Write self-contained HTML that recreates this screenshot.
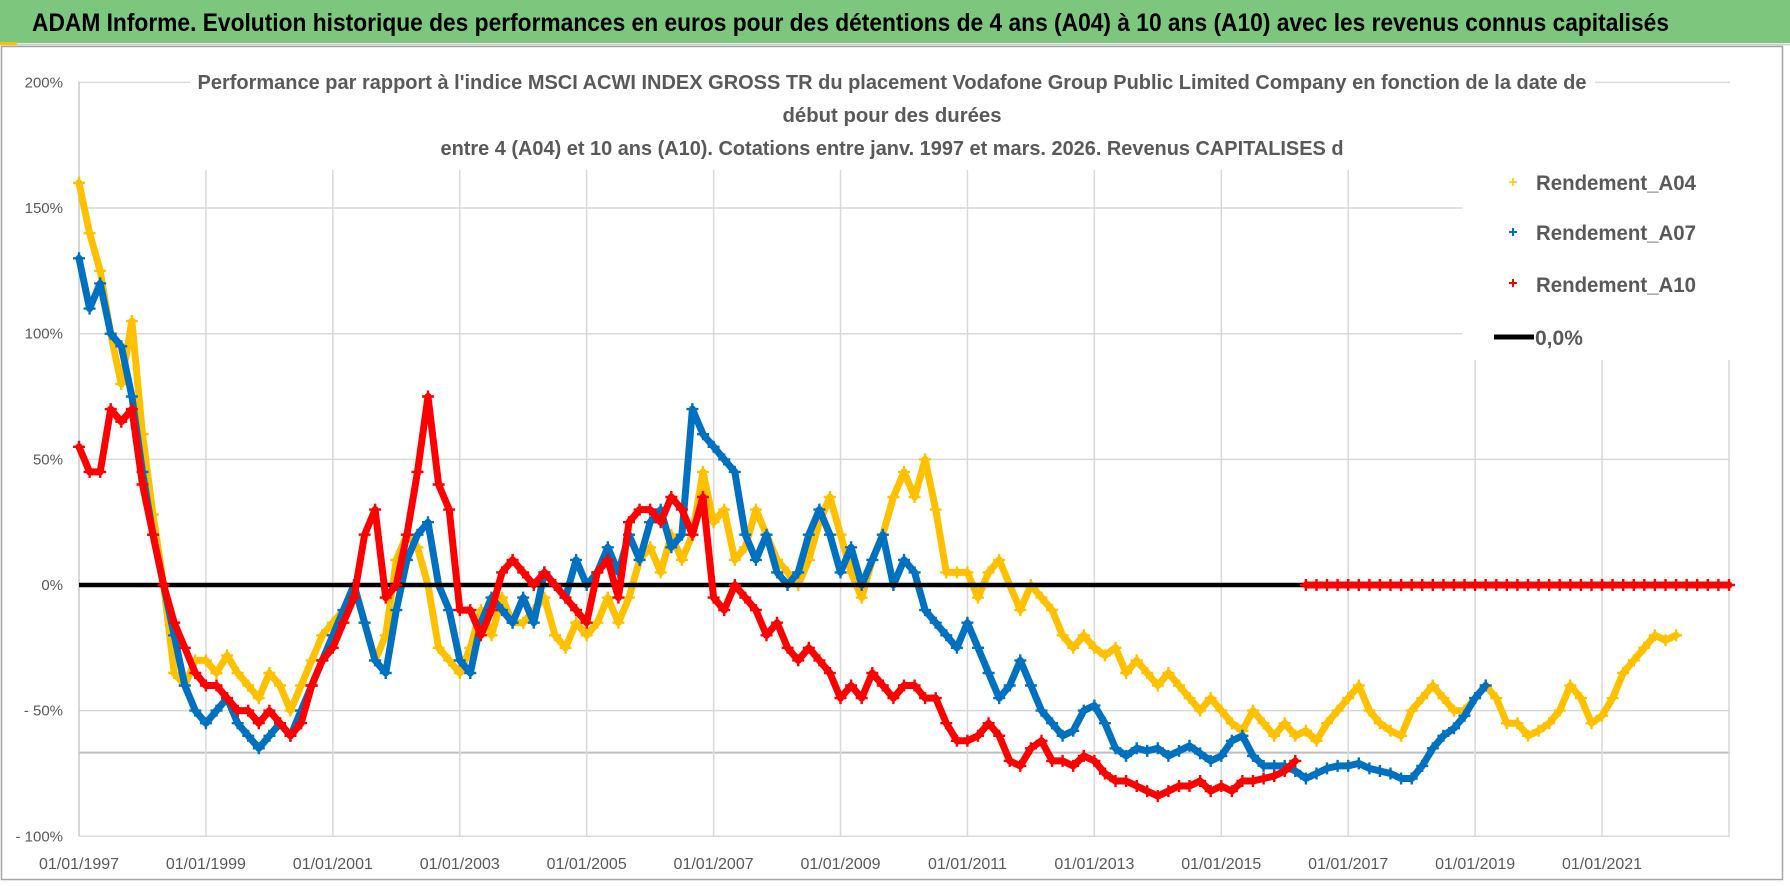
<!DOCTYPE html>
<html><head><meta charset="utf-8"><style>
html,body{margin:0;padding:0;background:#fff;}
svg{display:block;font-family:"Liberation Sans",sans-serif;}
</style></head><body>
<svg id="chart" width="1790" height="886" viewBox="0 0 1790 886" xmlns="http://www.w3.org/2000/svg">
<rect x="0" y="0" width="1790" height="886" fill="#fff"/>
<rect x="0" y="0" width="1790" height="43" fill="#7dc67d"/>
<line x1="0" y1="44.5" x2="1790" y2="44.5" stroke="#d0d0d0" stroke-width="2"/>
<rect x="0" y="42" width="17" height="3" fill="#ffc000"/>
<text x="32" y="31" font-size="25" font-weight="bold" fill="#000" textLength="1637" lengthAdjust="spacingAndGlyphs">ADAM Informe. Evolution historique des performances en euros pour des détentions de 4 ans (A04) à 10 ans (A10) avec les revenus connus capitalisés</text>
<rect x="1.5" y="46.5" width="1781" height="833" fill="none" stroke="#a6a6a6" stroke-width="1.5"/>
<g id="grid"></g>
<g id="marks"></g>
<rect x="190" y="62" width="1405" height="106" fill="#fff"/>
<text x="892" y="89" text-anchor="middle" font-size="20" font-weight="bold" fill="#595959" textLength="1389" lengthAdjust="spacingAndGlyphs">Performance par rapport à l'indice MSCI ACWI INDEX GROSS TR  du placement Vodafone Group Public Limited Company en fonction de la date de</text>
<text x="892" y="122" text-anchor="middle" font-size="20" font-weight="bold" fill="#595959" textLength="219" lengthAdjust="spacingAndGlyphs">début pour des durées</text>
<text x="892" y="155" text-anchor="middle" font-size="20" font-weight="bold" fill="#595959" textLength="903" lengthAdjust="spacingAndGlyphs">entre 4 (A04) et 10 ans (A10). Cotations entre janv. 1997 et mars. 2026. Revenus CAPITALISES d</text>
<rect x="1462" y="153" width="268" height="207" fill="#fff"/>
<g>
 <g><path d="M1509 182h8M1513 178v8" stroke="#ffc000" stroke-width="1.5"/><text x="1536" y="190" font-size="21" font-weight="bold" fill="#595959" textLength="160" lengthAdjust="spacingAndGlyphs">Rendement_A04</text></g>
 <g><path d="M1509 232h8M1513 228v8" stroke="#0070c0" stroke-width="2"/><text x="1536" y="240" font-size="21" font-weight="bold" fill="#595959" textLength="160" lengthAdjust="spacingAndGlyphs">Rendement_A07</text></g>
 <g><path d="M1509 283h8M1513 279v8" stroke="#ff0000" stroke-width="2"/><text x="1536" y="292" font-size="21" font-weight="bold" fill="#595959" textLength="160" lengthAdjust="spacingAndGlyphs">Rendement_A10</text></g>
 <g><line x1="1494" y1="337" x2="1534" y2="337" stroke="#000" stroke-width="5"/><text x="1535" y="345" font-size="21" font-weight="bold" fill="#595959">0,0%</text></g>
</g>
</svg>
<script>
const startYear = 1997;
const stepYears = 1/6;
const yTicks = [200,150,100,50,0,-50,-100];
const yTickLabels = ["200%","150%","100%","50%","0%","- 50%","- 100%"];
const xTickYears = [1997,1999,2001,2003,2005,2007,2009,2011,2013,2015,2017,2019,2021];
const xTickLabels = ["01/01/1997","01/01/1999","01/01/2001","01/01/2003","01/01/2005","01/01/2007","01/01/2009","01/01/2011","01/01/2013","01/01/2015","01/01/2017","01/01/2019","01/01/2021"];
const zeroLineStart = 1997;
const zeroLineEnd = 2016.3;
const refLineValue = -66.7;

const a04 = [160,140,125,100,80,105,
60,28,0,-35,-40,-30,
-30,-35,-28,-35,-40,-45,
-35,-40,-50,-40,-30,-20,
-15,-10,0,-15,-30,-20,
10,20,15,0,-25,-30,
-35,-25,-10,-20,-5,-15,
-15,-10,-5,-20,-25,-15,
-20,-15,-5,-15,-5,10,
15,5,20,10,20,45,
25,30,10,15,30,20,
10,5,0,10,25,35,
20,5,-5,10,20,35,
45,35,50,30,5,5,
5,-5,5,10,0,-10,
0,-5,-10,-20,-25,-20,
-25,-28,-25,-35,-30,-35,
-40,-35,-40,-45,-50,-45,
-50,-55,-58,-50,-55,-60,
-55,-60,-58,-62,-55,-50,
-45,-40,-50,-55,-58,-60,
-50,-45,-40,-45,-50,-50,
-45,-40,-45,-55,-55,-60,
-58,-55,-50,-40,-45,-55,
-52,-45,-35,-30,-25,-20,
-22,-20];

const a07 = [130,110,120,100,95,75,
45,20,0,-20,-40,-50,
-55,-50,-45,-55,-60,-65,
-60,-55,-60,-50,-40,-30,
-20,-10,0,-15,-30,-35,
-10,10,20,25,0,-10,
-30,-35,-15,-5,-10,-15,
-5,-15,5,0,-5,10,
0,5,15,5,20,10,
25,30,15,20,70,60,
55,50,45,20,10,20,
5,0,5,20,30,20,
5,15,0,10,20,0,
10,5,-10,-15,-20,-25,
-15,-25,-35,-45,-40,-30,
-40,-50,-55,-60,-58,-50,
-48,-55,-65,-68,-65,-66,
-65,-68,-66,-64,-67,-70,
-68,-62,-60,-68,-72,-72,
-72,-74,-77,-75,-73,-72,
-72,-71,-73,-74,-75,-77,
-77,-72,-65,-60,-57,-52,
-45,-40];

const a10 = [55,45,45,70,65,70,
40,20,0,-15,-25,-35,
-40,-40,-45,-50,-50,-55,
-50,-55,-60,-55,-40,-30,
-25,-15,-5,20,30,-5,
0,20,45,75,40,30,
-10,-10,-20,-10,5,10,
5,0,5,0,-5,-10,
-15,5,10,-5,25,30,
30,25,35,30,20,35,
-5,-10,0,-5,-10,-20,
-15,-25,-30,-25,-30,-35,
-45,-40,-45,-35,-40,-45,
-40,-40,-45,-45,-55,-62,
-62,-60,-55,-60,-70,-72,
-65,-62,-70,-70,-72,-68,
-70,-75,-78,-78,-80,-82,
-84,-82,-80,-80,-78,-82,
-80,-82,-78,-78,-77,-76,
-74,-70,
0,0,0,0,
0,0,0,0,0,0,
0,0,0,0,0,0,
0,0,0,0,0,0,
0,0,0,0,0,0,
0,0,0,0,0,0,
0,0,0,0,0,0,
0];

const NS = "http://www.w3.org/2000/svg";
const X0 = 79, PXYEAR = 63.46, Y0 = 585, PXPCT = 2.513, PLOT_R = 1730, PLOT_T = 82, PLOT_B = 836;
function xScale(t){ return X0 + (t - 1997) * PXYEAR; }
function yScale(v){ return Y0 - v * PXPCT; }
function mk(tag, attrs, parent){ const e = document.createElementNS(NS, tag); for (const k in attrs) e.setAttribute(k, attrs[k]); parent.appendChild(e); return e; }

const grid = document.getElementById('grid');
const marks = document.getElementById('marks');
const svg = document.getElementById('chart');

yTicks.forEach((v, i) => {
  if (v !== 0) {
    const l = mk('line', {x1: X0, x2: PLOT_R, y1: yScale(v), y2: yScale(v), stroke: '#d9d9d9', 'stroke-width': 1.5}, grid);
    
    
  }
  const t = mk('text', {x: 63, y: yScale(v) + 5, 'text-anchor': 'end', 'font-size': 15, fill: '#595959'}, svg);
  t.textContent = yTickLabels[i];
  
  
});
const ref = mk('line', {x1: X0, x2: PLOT_R, y1: yScale(refLineValue), y2: yScale(refLineValue), stroke: '#bfbfbf', 'stroke-width': 2}, grid);



xTickYears.forEach((yr, i) => {
  const x = xScale(yr);
  const l = mk('line', {x1: x, x2: x, y1: i === 0 ? PLOT_T : 170, y2: PLOT_B, stroke: i === 0 ? '#c8c8c8' : '#d9d9d9', 'stroke-width': 1.5}, grid);
  
  
  const t = mk('text', {x: x, y: 869, 'text-anchor': 'middle', 'font-size': 16, fill: '#595959'}, svg);
  t.textContent = xTickLabels[i];
  
  
});
const xr = mk('line', {x1: xScale(2023), x2: xScale(2023), y1: 360, y2: PLOT_B, stroke: '#d9d9d9', 'stroke-width': 1.5}, grid);



function drawSeries(vals, color, name){
  const g = mk('g', {}, marks);
  
  
  // trailing run of exact zeros is drawn as separate (unconnected) segment
  let tail = vals.length;
  while (tail > 0 && vals[tail - 1] === 0) tail--;
  if (tail === vals.length) tail = vals.length;
  const pts = vals.map((v, i) => [xScale(startYear + i * stepYears), yScale(v)]);
  const segs = tail < vals.length && tail > 0 ? [pts.slice(0, tail), pts.slice(tail)] : [pts];
  segs.forEach(seg => {
    const pl = mk('polyline', {points: seg.map(p => p[0].toFixed(1) + ',' + p[1].toFixed(1)).join(' '), fill: 'none', stroke: color, 'stroke-width': 7, 'stroke-linejoin': 'round', 'stroke-linecap': 'round'}, g);
    
    
  });
  let d = '';
  pts.forEach(p => { d += 'M' + (p[0]-6).toFixed(1) + ' ' + p[1].toFixed(1) + 'h12M' + p[0].toFixed(1) + ' ' + (p[1]-6).toFixed(1) + 'v12'; });
  const cr = mk('path', {d: d, stroke: color, 'stroke-width': 2.4, fill: 'none'}, g);
  
  
}
drawSeries(a04, '#ffc000', 'series-a04');
drawSeries(a07, '#0070c0', 'series-a07');
const zl = mk('line', {x1: xScale(zeroLineStart), x2: xScale(zeroLineEnd), y1: yScale(0), y2: yScale(0), stroke: '#000', 'stroke-width': 4.5}, marks);


drawSeries(a10, '#ff0000', 'series-a10');
</script>
</body></html>
